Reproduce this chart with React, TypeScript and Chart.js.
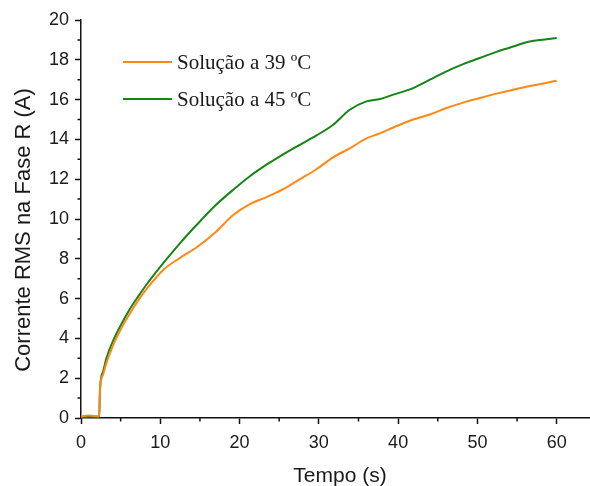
import React, { useEffect, useRef } from "react";
import { Chart, registerables } from "chart.js";

Chart.register(...registerables);

const timeS = [0, 1, 2.3, 2.4, 2.8, 3.2, 4.1, 5.0, 6.2, 7.2, 8.3, 10.4, 12.5, 14.6, 17.0, 19.2, 21.3, 23.4, 25.5, 27.6, 29.7, 31.8, 33.9, 36.0, 37.7, 39.4, 41.9, 44.0, 46.1, 48.2, 50.3, 52.4, 54.5, 56.6, 58.5, 60.0];
const sol39 = [0.08, 0.12, 0.08, 1.4, 2.2, 2.76, 3.7, 4.45, 5.28, 5.9, 6.5, 7.45, 8.05, 8.58, 9.35, 10.2, 10.75, 11.1, 11.5, 12.0, 12.5, 13.1, 13.55, 14.05, 14.3, 14.6, 15.0, 15.25, 15.58, 15.85, 16.08, 16.3, 16.5, 16.68, 16.82, 16.95];
const sol45 = [0.05, 0.06, 0.06, 1.5, 2.35, 3.0, 3.93, 4.65, 5.5, 6.1, 6.72, 7.79, 8.79, 9.71, 10.7, 11.47, 12.15, 12.73, 13.25, 13.73, 14.2, 14.74, 15.49, 15.91, 16.03, 16.25, 16.58, 17.0, 17.42, 17.78, 18.09, 18.4, 18.67, 18.92, 19.02, 19.1];
const seriesLabels = ["Solução a 39 ºC", "Solução a 45 ºC"];
const seriesColors = ["rgb(255,136,20)", "rgb(22,132,22)"];
const xTitle = "Tempo (s)";
const yTitle = "Corrente RMS na Fase R (A)";

const SANS = "'Liberation Sans', Arial, sans-serif";
const SERIF = "'Liberation Serif', 'Times New Roman', serif";

const decorPlugin = {
  id: "decor",
  afterDraw(chart: any) {
    const ctx = chart.ctx;
    const xs = chart.scales.x;
    const ys = chart.scales.y;
    const area = chart.chartArea;
    ctx.save();
    ctx.strokeStyle = "#111";
    ctx.lineWidth = 1.5;
    // minor ticks
    ctx.beginPath();
    for (let v = 5; v <= 65; v += 10) {
      const px = xs.getPixelForValue(v);
      if (px > area.right) break;
      ctx.moveTo(px, area.bottom);
      ctx.lineTo(px, area.bottom + 3.5);
    }
    for (let v = 1; v < 20; v += 2) {
      const py = ys.getPixelForValue(v);
      ctx.moveTo(area.left, py);
      ctx.lineTo(area.left - 3.5, py);
    }
    ctx.stroke();

    // axis titles
    ctx.fillStyle = "#1a1a1a";
    ctx.font = `21px ${SANS}`;
    ctx.textAlign = "center";
    ctx.textBaseline = "alphabetic";
    ctx.fillText(xTitle, 340, 482);
    ctx.save();
    ctx.translate(30, 230);
    ctx.rotate(-Math.PI / 2);
    ctx.font = `22px ${SANS}`;
    ctx.fillText(yTitle, 0, 0);
    ctx.restore();

    // legend
    const legendY = [62, 99];
    chart.data.datasets.forEach((ds: any, i: number) => {
      ctx.strokeStyle = ds.borderColor;
      ctx.lineWidth = 2;
      ctx.beginPath();
      ctx.moveTo(123, legendY[i]);
      ctx.lineTo(172, legendY[i]);
      ctx.stroke();
      ctx.fillStyle = "#1a1a1a";
      ctx.font = `21px ${SERIF}`;
      ctx.textAlign = "left";
      ctx.textBaseline = "middle";
      ctx.fillText(ds.label, 177, legendY[i] + 1);
    });
    ctx.restore();
  },
};

export default function App() {
  const ref = useRef<HTMLCanvasElement | null>(null);
  useEffect(() => {
    document.body.style.margin = "0";
    const canvas = ref.current;
    if (!canvas) return;
    const chart = new Chart(canvas, {
      type: "line",
      data: {
        datasets: [sol39, sol45].map((vals, i) => ({
          label: seriesLabels[i],
          data: timeS.map((t, j) => ({ x: t, y: vals[j] })),
          borderColor: seriesColors[i],
          backgroundColor: seriesColors[i],
          borderWidth: 2,
          pointRadius: 0,
          cubicInterpolationMode: "monotone" as const,
          fill: false,
        })),
      },
      options: {
        animation: false,
        responsive: false,
        events: [],
        layout: { padding: { top: 20, right: 0, left: 0, bottom: 0 } },
        plugins: {
          legend: { display: false },
          tooltip: { enabled: false },
          title: { display: false },
        },
        scales: {
          x: {
            type: "linear",
            min: 0,
            max: 64.2,
            afterFit: (s: any) => {
              s.height = 68;
            },
            ticks: {
              stepSize: 10,
              includeBounds: false,
              color: "#1a1a1a",
              font: { family: SANS, size: 18 },
              padding: 8,
            },
            grid: {
              display: true,
              drawOnChartArea: false,
              drawTicks: true,
              tickLength: 6,
              tickWidth: 1.5,
              tickColor: "#111",
            },
            border: { display: true, color: "#111", width: 1.5 },
          },
          y: {
            type: "linear",
            min: 0,
            max: 20,
            afterFit: (s: any) => {
              s.width = 81;
            },
            ticks: {
              stepSize: 2,
              color: "#1a1a1a",
              font: { family: SANS, size: 18 },
              padding: 6,
            },
            grid: {
              display: true,
              drawOnChartArea: false,
              drawTicks: true,
              tickLength: 6,
              tickWidth: 1.5,
              tickColor: "#111",
            },
            border: { display: true, color: "#111", width: 1.5 },
          },
        },
      },
      plugins: [decorPlugin],
    });
    return () => chart.destroy();
  }, []);
  return (
    <div style={{ width: 590, height: 486 }}>
      <canvas ref={ref} width={590} height={486} style={{ display: "block" }} />
    </div>
  );
}
